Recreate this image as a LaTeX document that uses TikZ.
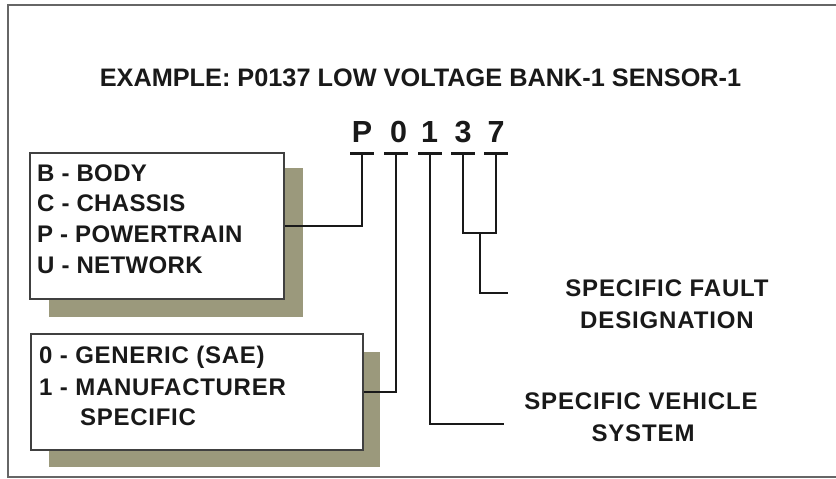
\documentclass[tikz,border=0pt]{standalone}
\usepackage{fontspec}
\setmainfont{Liberation Sans}
\definecolor{shadowc}{RGB}{155,153,124}
\definecolor{ink}{RGB}{25,25,25}
\begin{document}
\begin{tikzpicture}[x=1pt,y=-1pt,
  lbl/.style={font=\fontsize{24}{30}\selectfont\bfseries\addfontfeature{LetterSpace=1.5}, text=ink, inner sep=0pt, anchor=base west},
  lbltwo/.style={lbl, font=\fontsize{24}{30}\selectfont\bfseries\addfontfeature{LetterSpace=3}},
  rlbl/.style={font=\fontsize{24}{30}\selectfont\bfseries\addfontfeature{LetterSpace=3.6}, text=ink, inner sep=0pt, anchor=base},
  ttl/.style={font=\fontsize{25.3}{30}\selectfont\bfseries, text=ink, inner sep=0pt, anchor=base},
  big/.style={font=\fontsize{30.5}{32}\selectfont\bfseries, text=ink, inner sep=0pt, anchor=base},
  conn/.style={line width=2pt, ink},
  ubar/.style={line width=3pt, ink},
  box/.style={draw=black!75, line width=1.5pt, fill=white, anchor=north west, inner sep=0pt},
  shadowbox/.style={fill=shadowc}]
\useasboundingbox (0,0) rectangle (836,479);
% frame
\draw[black!60, line width=1.8pt] (836,5) -- (8,5) -- (8,477) -- (836,477);
% title
\node[ttl] (title) at (420.5,86.5) {EXAMPLE: P0137 LOW VOLTAGE BANK-1 SENSOR-1};
% big code letters
\node[big] (cP) at (362,142) {P};
\node[big] (c0) at (398.5,142) {0};
\node[big] (c1) at (429.5,142) {1};
\node[big] (c3) at (463,142) {3};
\node[big] (c7) at (496,142) {7};
\coordinate (bP) at (362,153);
\coordinate (b0) at (396,153);
\coordinate (b1) at (430,153);
\coordinate (b3) at (463,153);
\coordinate (b7) at (496,153);
\foreach \c in {bP,b0,b1,b3,b7}
  \draw[ubar] ([xshift=-12pt]\c) -- ([xshift=12pt]\c);
% shadows
\fill[shadowbox] (49,168) rectangle (303,317);
\fill[shadowbox] (49,352) rectangle (380,467);
% boxes
\node[box, minimum width=254pt, minimum height=146pt] (box1) at (29,152) {};
\node[box, minimum width=332pt, minimum height=116pt] (box2) at (30,333) {};
% box texts
\node[lbl] (t1) at (37,181) {B - BODY};
\node[lbl] (t2) at (37,211.5) {C - CHASSIS};
\node[lbl] (t3) at (37,242) {P - POWERTRAIN};
\node[lbl] (t4) at (37,273) {U - NETWORK};
\node[lbltwo] (g1) at (39,363.6) {0 - GENERIC (SAE)};
\node[lbltwo] (g2) at (39,395.3) {1 - MANUFACTURER};
\node[lbltwo] (g3) at (80,425.3) {SPECIFIC};
% right labels
\node[rlbl] (f1) at (667,296.6) {SPECIFIC FAULT};
\node[rlbl] (f2) at (667,328.6) {DESIGNATION};
\node[rlbl] (v1) at (641,409.6) {SPECIFIC VEHICLE};
\node[rlbl] (v2) at (643,441.6) {SYSTEM};
% connectors
\draw[conn] (bP) |- (box1.east);
\draw[conn] (b0) |- (box2.east);
\coordinate (vend) at (504,424);
\draw[conn] (b1) |- (vend);
\coordinate (j3) at (463,233);
\coordinate (j7) at (496,233);
\coordinate (jm) at (479.5,233);
\coordinate (fend) at (508,293);
\draw[conn] (b3) -- (j3) -- (j7) -- (b7);
\draw[conn] (jm) |- (fend);
\end{tikzpicture}
\end{document}
